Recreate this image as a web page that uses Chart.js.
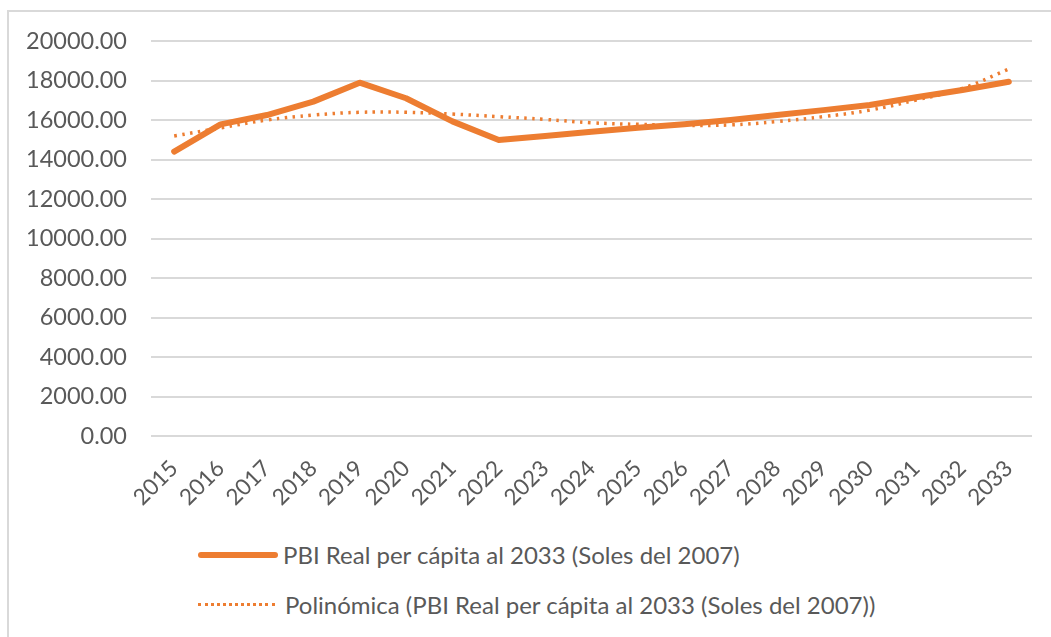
<!DOCTYPE html>
<html>
<head>
<meta charset="utf-8">
<script src="https://cdn.jsdelivr.net/npm/chart.js@4"></script>
<style>
  html, body { margin: 0; padding: 0; background: #fff; overflow: hidden; }
  #frame { position: absolute; left: 7px; top: 10px; width: 1100px; height: 700px; border: 2px solid #d9d9d9; box-sizing: border-box; }
  #wrap { position: absolute; left: 0; top: 0; width: 1051px; height: 520px; }
  .legend { position: absolute; left: 198px; font-family: Lato, sans-serif; font-size: 24px; color: #595959; display: flex; align-items: center; }
  .legend .sample { width: 80px; margin-right: 5px; }
  #leg1 { top: 540px; }
  #leg1 .sample { height: 6px; background: #ed7d31; border-radius: 3px; }
  #leg2 { top: 590px; }
  #leg2 .sample { height: 0; border-top: 3px dotted #ed7d31; width: 77px; margin-right: 10px; }
</style>
</head>
<body>
<div id="frame"></div>
<div id="wrap"><canvas id="chart"></canvas></div>
<div class="legend" id="leg1"><span class="sample"></span><span>PBI Real per cápita al 2033 (Soles del 2007)</span></div>
<div class="legend" id="leg2"><span class="sample"></span><span>Polinómica (PBI Real per cápita al 2033 (Soles del 2007))</span></div>
<script>
const years = ['2015', '2016', '2017', '2018', '2019', '2020', '2021', '2022', '2023', '2024',
               '2025', '2026', '2027', '2028', '2029', '2030', '2031', '2032', '2033'];

const pbiPerCapita = [14400, 15780, 16250, 16930, 17890, 17100, 15930, 14990, 15190, 15410,
                      15610, 15780, 16000, 16250, 16500, 16760, 17150, 17520, 17940];

const polyTrend = [15190, 15600, 16000, 16250, 16390, 16390, 16300, 16170, 16030, 15860,
                   15780, 15730, 15750, 15920, 16170, 16500, 17010, 17600, 18580];

const orange = '#ed7d31';
const grey = '#595959';

new Chart('chart', {
    type: 'line',
    data: {
        labels: years,
        datasets: [{
            label: 'PBI Real per cápita al 2033 (Soles del 2007)',
            data: pbiPerCapita,
            borderColor: orange,
            borderWidth: 6,
            pointRadius: 0,
            tension: 0,
            borderCapStyle: 'round',
            borderJoinStyle: 'round',
        }, {
            label: 'Polinómica (PBI Real per cápita al 2033 (Soles del 2007))',
            data: polyTrend,
            borderColor: orange,
            borderWidth: 3.5,
            borderDash: [2.5, 5.5],
            pointRadius: 0,
            tension: 0.4,
        }],
    },
    options: {
        responsive: true,
        maintainAspectRatio: false,
        animation: false,
        layout: {
            padding: { top: 41, right: 19, left: 0, bottom: 0 }
        },
        scales: {
            x: {
                offset: true,
                grid: { display: false },
                border: { display: false },
                ticks: {
                    color: grey,
                    font: { family: 'Lato', size: 22.5 },
                    minRotation: 45,
                    maxRotation: 45,
                    padding: 11,
                },
                afterFit: scale => { scale.height = 84; }
            },
            y: {
                min: 0,
                max: 20000,
                grid: { color: '#d9d9d9', lineWidth: 2, drawTicks: false },
                border: { display: false },
                ticks: {
                    stepSize: 2000,
                    color: grey,
                    padding: 24,
                    font: { family: 'Lato', size: 23.5 },
                    callback: v => v.toFixed(2)
                },
                afterFit: scale => { scale.width = 151; }
            }
        },
        plugins: {
            legend: { display: false },
            tooltip: { enabled: false }
        }
    }
});
</script>
</body>
</html>
